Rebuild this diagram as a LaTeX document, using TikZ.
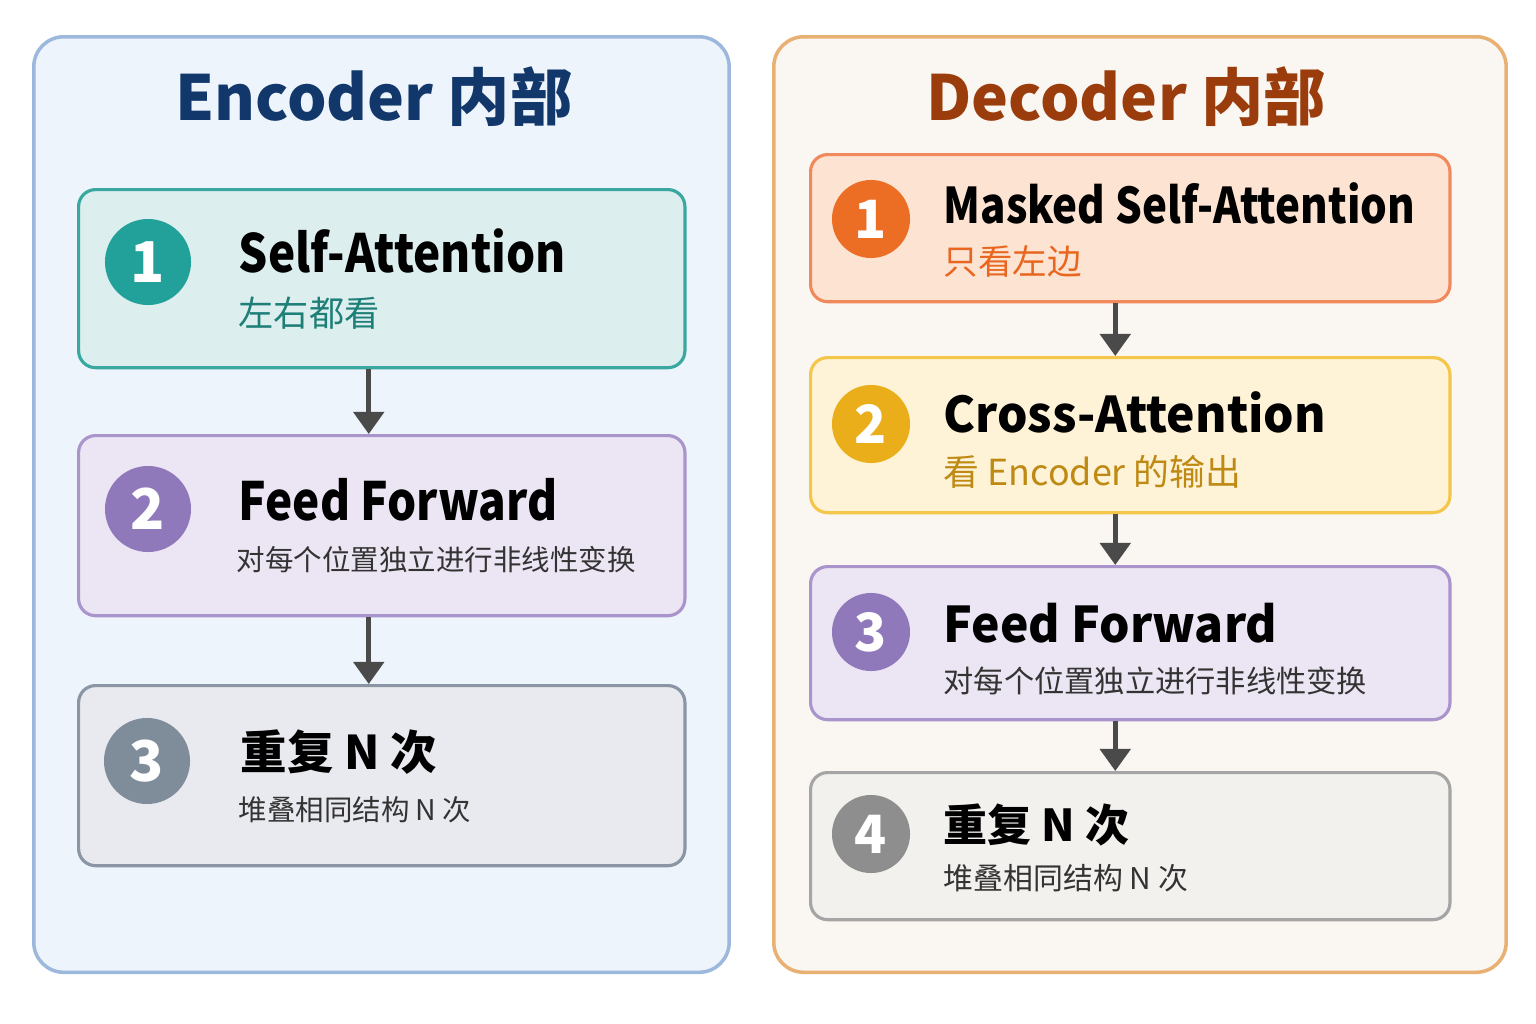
\documentclass[tikz,border=0pt]{standalone}
\usepackage{xcolor}
\usepackage{graphicx}
\usepackage{fontspec}
\setmainfont{Noto Sans CJK SC}
\usepackage{tikz}
\usetikzlibrary{arrows.meta, positioning}

\definecolor{encBg}{HTML}{EEF4FC}
\definecolor{encEdge}{HTML}{9DB8DD}
\definecolor{encInk}{HTML}{12386B}
\definecolor{decBg}{HTML}{FAF6F1}
\definecolor{decEdge}{HTML}{E8B072}
\definecolor{decInk}{HTML}{9A3C0C}
\definecolor{tealFill}{HTML}{DDEEEE}
\definecolor{tealEdge}{HTML}{3AA8A0}
\definecolor{tealDot}{HTML}{21A19A}
\definecolor{tealInk}{HTML}{1E7F78}
\definecolor{lilacFill}{HTML}{ECE6F4}
\definecolor{lilacEdge}{HTML}{A994CC}
\definecolor{lilacDot}{HTML}{9079BB}
\definecolor{slateFill}{HTML}{E9EAEF}
\definecolor{slateEdge}{HTML}{8A96A3}
\definecolor{slateDot}{HTML}{7F8C9A}
\definecolor{peachFill}{HTML}{FDE3D2}
\definecolor{peachEdge}{HTML}{F08A5D}
\definecolor{peachDot}{HTML}{EB6E24}
\definecolor{peachInk}{HTML}{E8661F}
\definecolor{sunFill}{HTML}{FEF3D6}
\definecolor{sunEdge}{HTML}{F4C64A}
\definecolor{sunDot}{HTML}{EAAE1A}
\definecolor{sunInk}{HTML}{BE8A14}
\definecolor{greyFill}{HTML}{F3F1EE}
\definecolor{greyEdge}{HTML}{A5A5A5}
\definecolor{greyDot}{HTML}{8E8E8E}
\definecolor{subInk}{HTML}{333333}
\definecolor{arrowInk}{HTML}{4A4A4A}

% horizontal squeeze for the bold latin titles
\newcommand{\slim}[2]{\scalebox{#1}[1]{#2}}

\begin{document}
\begin{tikzpicture}[
    x=0.01cm, y=-0.01cm,
    panel/.style={rectangle, draw, line width=1pt, rounded corners=0.3cm, anchor=north west, minimum width=6.95cm, minimum height=9.35cm},
    stage/.style={rectangle, draw, line width=0.9pt, rounded corners=0.17cm, anchor=north west, minimum width=6.06cm},
    wide/.style={stage, minimum width=6.39cm},
    badge/.style={circle, minimum size=0.86cm, inner sep=0pt, text=white, font=\fontsize{16}{18}\selectfont\bfseries},
    smallbadge/.style={badge, minimum size=0.78cm, font=\fontsize{15}{17}\selectfont\bfseries},
    heading/.style={font=\fontsize{17.7}{21}\selectfont\bfseries},
    stagename/.style={anchor=base west, inner sep=0pt, font=\fontsize{15}{18}\selectfont\bfseries},
    stagenameR/.style={stagename, font=\fontsize{14}{17}\selectfont\bfseries},
    note/.style={anchor=west, inner sep=0pt, font=\fontsize{10}{12}\selectfont},
    smallnote/.style={note, text=subInk, font=\fontsize{8.1}{10}\selectfont},
    flow/.style={-{Triangle[length=0.22cm, width=0.3cm]}, line width=1.4pt, draw=arrowInk}
]
\useasboundingbox (0,0) rectangle (1536,1024);

% Panels
\node[panel, draw=encEdge, fill=encBg] (encoder) at (32,35) {};
\node[panel, draw=decEdge, fill=decBg, minimum width=7.32cm] (decoder) at (772,35) {};
\node[heading, text=encInk] (encTitle) at (374,97) {Encoder 内部};
\node[heading, text=decInk] (decTitle) at (1126,97) {Decoder 内部};

% Encoder stages
\node[stage, draw=tealEdge, fill=tealFill, minimum height=1.78cm] (enc1) at (77,188) {};
\node[stage, draw=lilacEdge, fill=lilacFill, minimum height=1.8cm] (enc2) at (77,434) {};
\node[stage, draw=slateEdge, fill=slateFill, minimum height=1.8cm] (enc3) at (77,684) {};

\node[badge, fill=tealDot] (encDot1) at (148,262) {1};
\node[badge, fill=lilacDot] (encDot2) at (148,509) {2};
\node[badge, fill=slateDot] (encDot3) at (147,761) {3};

\node[stagename] (encName1) at (238,272) {\slim{0.87}{Self-Attention}};
\node[note, text=tealInk] (encNote1) at (238,313) {左右都看};
\node[stagename] (encName2) at (238,520) {\slim{0.87}{Feed Forward}};
\node[smallnote] (encNote2) at (236,560) {对每个位置独立进行非线性变换};
\node[anchor=west, inner sep=0pt, font=\fontsize{13.2}{15}\selectfont\bfseries] (encName3) at (240,752) {重复 N 次};
\node[smallnote] (encNote3) at (238,810) {堆叠相同结构 N 次};

% Decoder stages
\node[wide, draw=peachEdge, fill=peachFill, minimum height=1.47cm] (dec1) at (809,153) {};
\node[wide, draw=sunEdge, fill=sunFill, minimum height=1.55cm] (dec2) at (809,356) {};
\node[wide, draw=lilacEdge, fill=lilacFill, minimum height=1.53cm] (dec3) at (809,565) {};
\node[wide, draw=greyEdge, fill=greyFill, minimum height=1.47cm] (dec4) at (809,771) {};

\node[smallbadge, fill=peachDot] (decDot1) at (871,219) {1};
\node[smallbadge, fill=sunDot] (decDot2) at (871,424) {2};
\node[smallbadge, fill=lilacDot] (decDot3) at (871,632) {3};
\node[smallbadge, fill=greyDot] (decDot4) at (871,834) {4};

\node[stagenameR] (decName1) at (943,223) {\slim{0.855}{Masked Self-Attention}};
\node[note, text=peachInk, font=\fontsize{9.8}{12}\selectfont] (decNote1) at (943,261) {只看左边};
\node[stagenameR] (decName2) at (943,432) {\slim{0.975}{Cross-Attention}};
\node[note, text=sunInk, font=\fontsize{10.2}{12}\selectfont] (decNote2) at (943,472) {看 Encoder 的输出};
\node[stagenameR] (decName3) at (943,642) {\slim{0.975}{Feed Forward}};
\node[smallnote, font=\fontsize{8.6}{10}\selectfont] (decNote3) at (943,681) {对每个位置独立进行非线性变换};
\node[anchor=west, inner sep=0pt, font=\fontsize{12.5}{14}\selectfont\bfseries] (decName4) at (943,825) {重复 N 次};
\node[smallnote, font=\fontsize{8.5}{10}\selectfont] (decNote4) at (943,878) {堆叠相同结构 N 次};

% Arrows
\draw[flow] ([xshift=-0.13cm]enc1.south) -- ([xshift=-0.13cm]enc2.north);
\draw[flow] ([xshift=-0.13cm]enc2.south) -- ([xshift=-0.13cm]enc3.north);
\draw[flow] ([xshift=-0.15cm]dec1.south) -- ([xshift=-0.15cm]dec2.north);
\draw[flow] ([xshift=-0.15cm]dec2.south) -- ([xshift=-0.15cm]dec3.north);
\draw[flow] ([xshift=-0.15cm]dec3.south) -- ([xshift=-0.15cm]dec4.north);

\end{tikzpicture}
\end{document}
